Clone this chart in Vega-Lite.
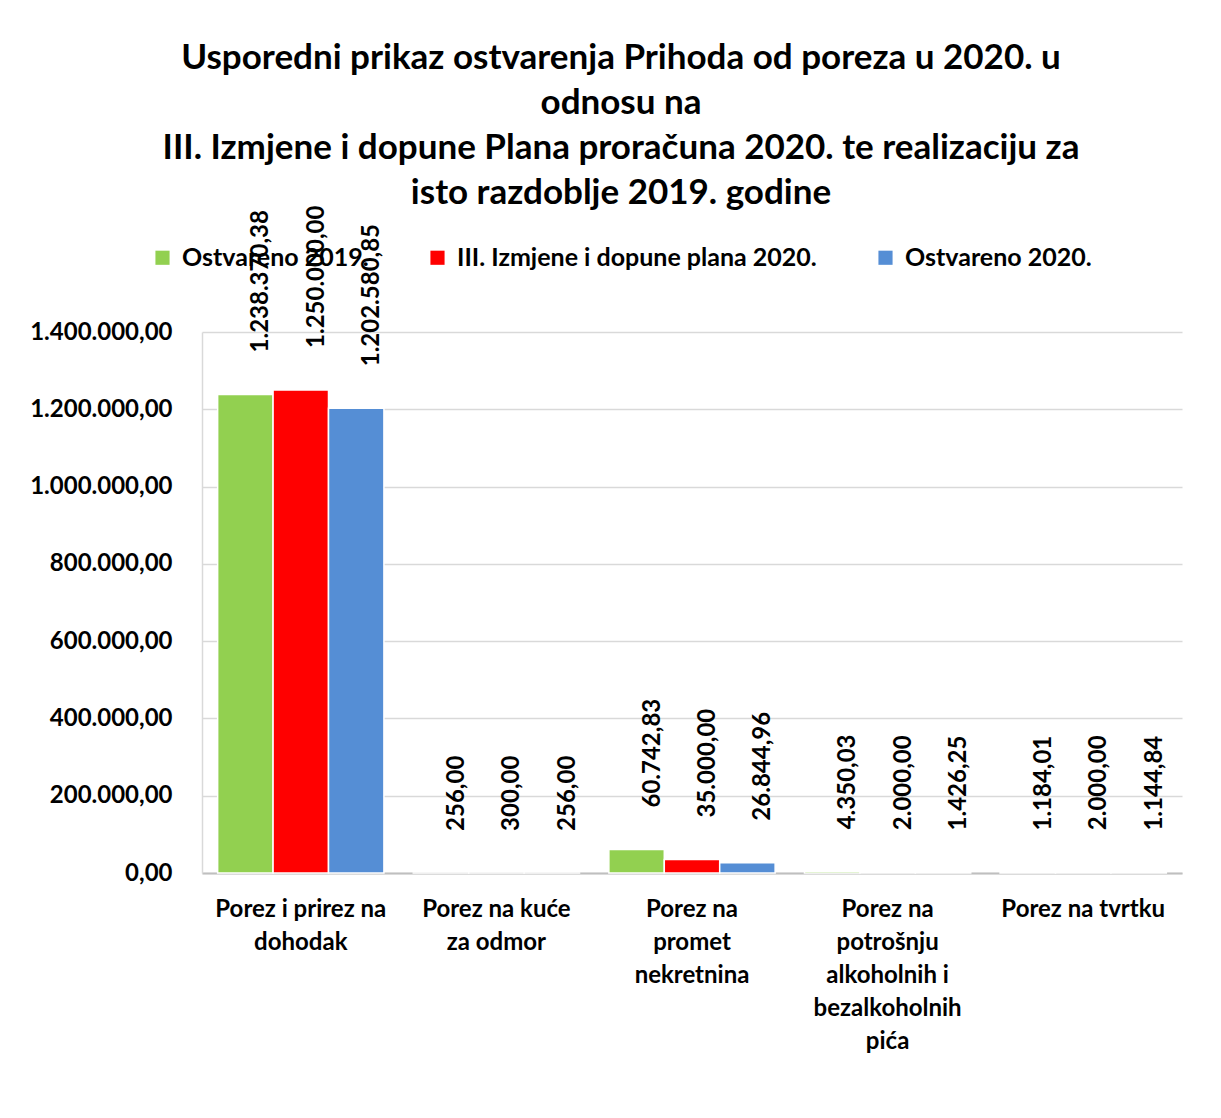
{
  "$schema": "https://vega.github.io/schema/vega-lite/v6.json",
  "autosize": {"type": "none"},
  "width": 980,
  "height": 541,
  "padding": {"left": 202, "top": 332, "right": 39, "bottom": 245},
  "background": "white",
  "title": {
    "text": ["Usporedni prikaz ostvarenja Prihoda od poreza u 2020. u", "odnosu na", "III. Izmjene i dopune Plana proračuna 2020. te realizaciju za", "isto razdoblje 2019. godine"],
    "font": "Lato",
    "fontSize": 35,
    "fontWeight": "bold",
    "lineHeight": 45,
    "anchor": "middle",
    "dx": -71,
    "offset": -5,
    "color": "#000000"
  },
  "config": {
    "locale": {"number": {"decimal": ",", "thousands": ".", "grouping": [3], "currency": ["", ""]}},
    "view": {"stroke": null},
    "font": "Lato"
  },
  "data": {
    "values": [
      {"kategorija": "Porez i prirez na dohodak", "serija": "Ostvareno  2019.", "iznos": 1238370.38},
      {"kategorija": "Porez i prirez na dohodak", "serija": "III. Izmjene i dopune plana  2020.", "iznos": 1250000.00},
      {"kategorija": "Porez i prirez na dohodak", "serija": "Ostvareno 2020.", "iznos": 1202580.85},
      {"kategorija": "Porez na kuće za odmor", "serija": "Ostvareno  2019.", "iznos": 256.00},
      {"kategorija": "Porez na kuće za odmor", "serija": "III. Izmjene i dopune plana  2020.", "iznos": 300.00},
      {"kategorija": "Porez na kuće za odmor", "serija": "Ostvareno 2020.", "iznos": 256.00},
      {"kategorija": "Porez na promet nekretnina", "serija": "Ostvareno  2019.", "iznos": 60742.83},
      {"kategorija": "Porez na promet nekretnina", "serija": "III. Izmjene i dopune plana  2020.", "iznos": 35000.00},
      {"kategorija": "Porez na promet nekretnina", "serija": "Ostvareno 2020.", "iznos": 26844.96},
      {"kategorija": "Porez na potrošnju alkoholnih i bezalkoholnih pića", "serija": "Ostvareno  2019.", "iznos": 4350.03},
      {"kategorija": "Porez na potrošnju alkoholnih i bezalkoholnih pića", "serija": "III. Izmjene i dopune plana  2020.", "iznos": 2000.00},
      {"kategorija": "Porez na potrošnju alkoholnih i bezalkoholnih pića", "serija": "Ostvareno 2020.", "iznos": 1426.25},
      {"kategorija": "Porez na tvrtku", "serija": "Ostvareno  2019.", "iznos": 1184.01},
      {"kategorija": "Porez na tvrtku", "serija": "III. Izmjene i dopune plana  2020.", "iznos": 2000.00},
      {"kategorija": "Porez na tvrtku", "serija": "Ostvareno 2020.", "iznos": 1144.84}
    ]
  },
  "encoding": {
    "x": {
      "field": "kategorija",
      "type": "nominal",
      "sort": null,
      "scale": {"paddingInner": 0.15, "paddingOuter": 0.08},
      "axis": {
        "title": null,
        "domain": true,
        "domainColor": "#bfbfbf",
        "domainWidth": 2,
        "ticks": false,
        "labelAngle": 0,
        "labelFont": "Lato",
        "labelFontSize": 24,
        "labelFontWeight": "bold",
        "labelColor": "#000000",
        "labelPadding": 24,
        "labelLineHeight": 33,
        "labelBaseline": "top",
        "labelLimit": 300,
        "labelExpr": "datum.value == 'Porez i prirez na dohodak' ? ['Porez i prirez na', 'dohodak'] : datum.value == 'Porez na kuće za odmor' ? ['Porez na kuće', 'za odmor'] : datum.value == 'Porez na promet nekretnina' ? ['Porez na', 'promet', 'nekretnina'] : datum.value == 'Porez na potrošnju alkoholnih i bezalkoholnih pića' ? ['Porez na', 'potrošnju', 'alkoholnih i', 'bezalkoholnih', 'pića'] : datum.value"
      }
    },
    "xOffset": {
      "field": "serija",
      "type": "nominal",
      "sort": ["Ostvareno  2019.", "III. Izmjene i dopune plana  2020.", "Ostvareno 2020."],
      "scale": {"paddingInner": 0, "paddingOuter": 0}
    },
    "y": {
      "field": "iznos",
      "type": "quantitative",
      "scale": {"domain": [0, 1400000]},
      "axis": {
        "title": null,
        "format": ",.2f",
        "values": [0, 200000, 400000, 600000, 800000, 1000000, 1200000, 1400000],
        "domain": true,
        "domainColor": "#d9d9d9",
        "domainWidth": 1.5,
        "ticks": false,
        "grid": true,
        "gridColor": "#d9d9d9",
        "gridWidth": 1.5,
        "labelFont": "Lato",
        "labelFontSize": 24,
        "labelFontWeight": "bold",
        "labelColor": "#000000",
        "labelPadding": 30
      }
    }
  },
  "layer": [
    {
      "mark": {"type": "bar", "stroke": "#ffffff", "strokeWidth": 1.5},
      "encoding": {
        "color": {
          "field": "serija",
          "type": "nominal",
          "sort": ["Ostvareno  2019.", "III. Izmjene i dopune plana  2020.", "Ostvareno 2020."],
          "scale": {
            "domain": ["Ostvareno  2019.", "III. Izmjene i dopune plana  2020.", "Ostvareno 2020."],
            "range": ["#92D050", "#FF0000", "#558ED5"]
          },
          "legend": {
            "title": null,
            "orient": "none",
            "legendX": -52,
            "legendY": -87,
            "direction": "horizontal",
            "symbolType": "square",
            "symbolSize": 200,
            "symbolStrokeWidth": 0,
            "labelFont": "Lato",
            "labelFontSize": 25,
            "labelFontWeight": "bold",
            "labelColor": "#000000",
            "labelLimit": 500,
            "columnPadding": 50,
            "labelOffset": 7
          }
        }
      }
    },
    {
      "mark": {
        "type": "text",
        "angle": 270,
        "align": "left",
        "baseline": "middle",
        "dx": 42,
        "dy": 16,
        "font": "Lato",
        "fontSize": 24,
        "fontWeight": "bold",
        "color": "#000000"
      },
      "encoding": {
        "text": {"field": "iznos", "type": "quantitative", "format": ",.2f"}
      }
    }
  ]
}
